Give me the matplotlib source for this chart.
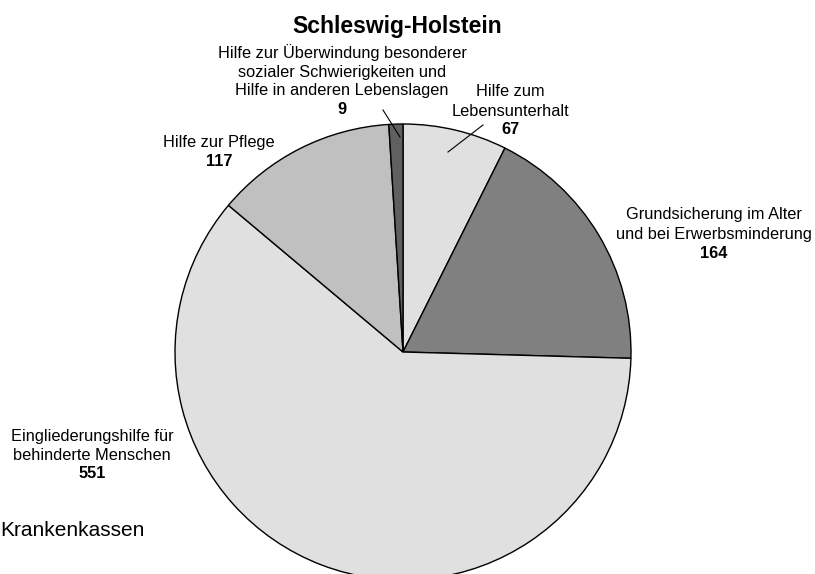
import matplotlib
matplotlib.use("Agg")
import matplotlib.pyplot as plt

# data, clockwise from 12 o'clock
labels = ["Hilfe zum\nLebensunterhalt",
          "Grundsicherung im Alter\nund bei Erwerbsminderung",
          "Eingliederungshilfe für\nbehinderte Menschen",
          "Hilfe zur Pflege",
          "Hilfe zur Überwindung besonderer\nsozialer Schwierigkeiten und\nHilfe in anderen Lebenslagen"]
values = [67, 164, 551, 117, 9]
colors = ["#e0e0e0", "#808080", "#e0e0e0", "#c0c0c0", "#606060"]

plt.rcParams['font.family'] = ['Liberation Sans', 'DejaVu Sans']

W, H = 815, 574
fig = plt.figure(figsize=(W / 100, H / 100), dpi=100)
ax = fig.add_axes([0, 0, 1, 1])

# pie in pixel coordinates (y measured from bottom)
cx, cy, r = 403, H - 352, 228
ax.pie(values, colors=colors, startangle=90, counterclock=False,
       center=(cx, cy), radius=r,
       wedgeprops=dict(edgecolor='black', linewidth=1))
ax.set_xlim(0, W)
ax.set_ylim(0, H)
ax.set_aspect('auto')
ax.axis('off')

# label positions (x, y of first line from top, in pixels)
label_pos = [(510, 92), (714, 215), (92, 436), (219, 143), (342, 53)]
fs = 11.8
step = 19
for lab, val, (x, y) in zip(labels, values, label_pos):
    lines = lab.split("\n")
    for i, line in enumerate(lines):
        ax.text(x, H - (y + i * step), line, ha='center', va='center', fontsize=fs)
    ax.text(x, H - (y + len(lines) * step), str(val), ha='center', va='center',
            fontsize=fs, fontweight='bold')

# leader lines
ax.plot([483, 448], [H - 125, H - 152], color='black', linewidth=0.8)
ax.plot([383, 400], [H - 110, H - 137], color='black', linewidth=0.8)

ax.text(397, H - 26, "Schleswig-Holstein", ha='center', va='center',
        fontsize=16.5, fontweight='bold')
ax.text(0, H - 531, "Krankenkassen", ha='left', va='center', fontsize=15)

fig.savefig("out.png", dpi=100)
